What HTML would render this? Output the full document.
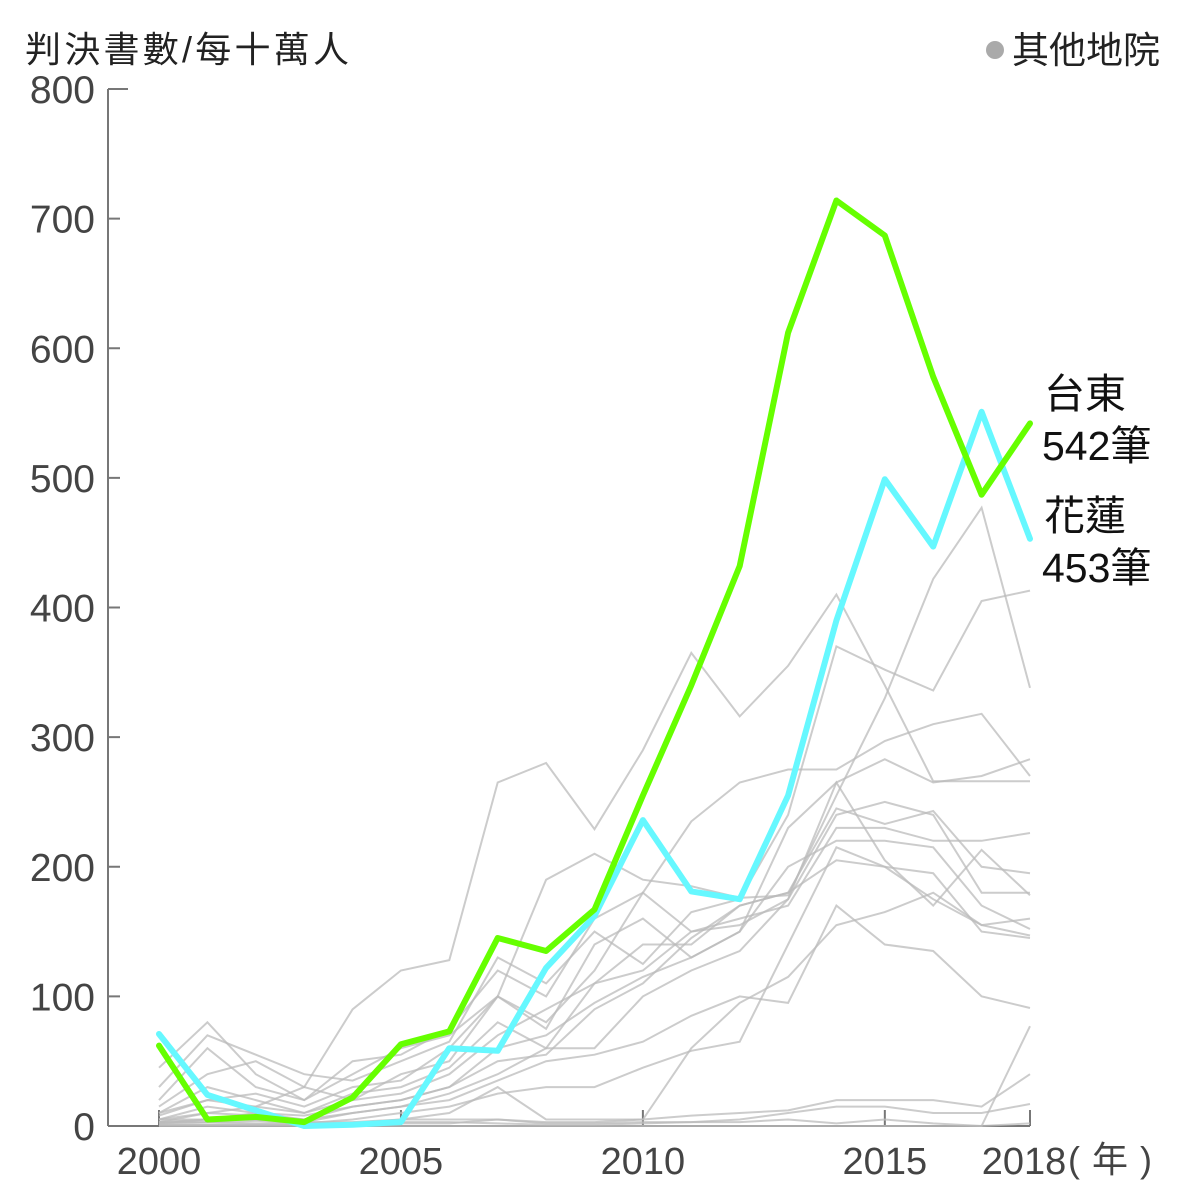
<!DOCTYPE html>
<html><head><meta charset="utf-8">
<style>
html,body{margin:0;padding:0;background:#fff;}
svg{display:block;font-family:"Liberation Sans","Noto Sans CJK TC",sans-serif;}
</style></head>
<body>
<svg id="chart" width="1200" height="1200" viewBox="0 0 1200 1200">
<text x="25" y="62" font-size="36" fill="#222" textLength="324">判決書數/每十萬人</text>
<g>
<circle cx="995" cy="50" r="9" fill="#aaa"/>
<text x="1012" y="63" font-size="37" fill="#222">其他地院</text>
</g>
<g id="axes"></g>
<g id="grays"></g>
<g id="mains"></g>
<text x="1044" y="408" font-size="41" fill="#111">台東</text>
<text x="1042" y="460" font-size="41" fill="#111">542筆</text>
<text x="1044" y="530" font-size="41" fill="#111">花蓮</text>
<text x="1042" y="582" font-size="41" fill="#111">453筆</text>
</svg>
<script>
const years=[2000,2001,2002,2003,2004,2005,2006,2007,2008,2009,2010,2011,2012,2013,2014,2015,2016,2017,2018];
const yTicks=[0,100,200,300,400,500,600,700,800];
const xTicks=[2000,2005,2010,2015,2018];
const taitung=[62,5,7,3,22,63,73,145,135,167,255,340,432,612,714,687,578,487,542];
const hualien=[71,24,12,0,1,3,60,58,122,162,236,181,175,255,390,499,447,551,453];
const g1=[5,10,15,30,90,120,128,265,280,229,290,365,316,355,410,340,266,266,266];
const g2=[30,70,55,40,35,50,65,130,110,150,125,165,175,240,370,352,336,405,413];
const g3=[10,20,25,15,30,35,60,100,190,210,190,185,176,178,255,330,422,477,338];
const g4=[45,80,40,20,50,55,75,120,100,160,180,235,265,275,275,297,310,318,270];
const g5=[20,60,30,20,40,60,70,100,75,140,160,130,150,230,265,283,265,270,283];
const g6=[15,40,50,30,20,40,50,100,80,120,180,150,155,175,240,250,240,180,180];
const g7=[10,30,20,10,25,30,45,80,60,110,140,140,170,180,245,233,243,200,195];
const g8=[8,20,15,10,20,25,40,70,90,110,120,150,160,170,230,230,220,220,226];
const g9=[5,15,10,8,15,20,30,60,70,95,115,130,150,200,220,220,215,170,152];
const g10=[3,10,8,5,15,20,30,50,55,90,110,145,170,180,205,200,175,155,147];
const g11=[3,5,10,5,10,15,25,40,60,60,100,120,135,175,265,205,170,213,178];
const g12=[2,5,5,3,10,15,20,35,50,55,65,85,100,95,170,140,135,100,91];
const g13=[2,3,4,2,5,10,15,25,30,30,45,58,65,140,215,200,195,150,145];
const g14=[5,5,5,3,3,5,10,30,5,5,5,60,95,115,155,165,180,155,160];
const g15=[3,3,2,2,2,5,5,5,2,2,3,3,3,5,2,5,2,0,77];
const g16=[1,1,1,1,1,2,2,5,3,3,5,8,10,12,20,20,20,15,40];
const g17=[1,1,1,1,2,3,3,2,1,1,2,3,5,10,15,15,10,10,17];
const g18=[0,0,0,0,0,0,0,0,0,0,0,0,0,0,0,0,0,0,2];
const grays=[g1,g2,g3,g4,g5,g6,g7,g8,g9,g10,g11,g12,g13,g14,g15,g16,g17,g18];

const NS='http://www.w3.org/2000/svg';
function xS(y){return 159+(y-2000)*(1030-159)/18;}
function yS(v){return 1126-v*(1126-89)/800;}
function mk(tag,attrs,parent){const e=document.createElementNS(NS,tag);for(const k in attrs)e.setAttribute(k,attrs[k]);parent.appendChild(e);return e;}
const axes=document.getElementById('axes');
let yl=mk('line',{x1:108,y1:89,x2:108,y2:1126,stroke:'#777','stroke-width':2},axes);


let xl=mk('line',{x1:108,y1:1126,x2:1030,y2:1126,stroke:'#777','stroke-width':2},axes);


yTicks.forEach(v=>{
  const t=mk('line',{x1:108,y1:yS(v),x2:v===800?128:120,y2:yS(v),stroke:'#777','stroke-width':2},axes);
  
  
  const l=mk('text',{x:95,y:yS(v)+14,'text-anchor':'end','font-size':39,fill:'#444'},axes);
  
  
  l.textContent=v;
});
xTicks.forEach(y=>{
  const t=mk('line',{x1:xS(y),y1:1126,x2:xS(y),y2:1110,stroke:'#777','stroke-width':2},axes);
  
  
  const l=mk('text',{x:y===2018?1024:xS(y),y:1174,'text-anchor':'middle','font-size':38,fill:'#444'},axes);
  
  
  l.textContent=y;
});
const unit=mk('text',{x:1068,y:1172,'font-size':36,fill:'#444'},axes);


unit.textContent='(年)';
unit.setAttribute('letter-spacing','12');
function path(arr){return arr.map((v,i)=>(i?'L':'M')+xS(years[i]).toFixed(1)+','+yS(v).toFixed(1)).join(' ');}
const gg=document.getElementById('grays');
grays.forEach(a=>{
  const p=mk('path',{d:path(a),fill:'none',stroke:'#bbb','stroke-opacity':0.75,'stroke-width':2},gg);
  
  
});
const mg=document.getElementById('mains');
const ph=mk('path',{d:path(hualien),fill:'none',stroke:'#66f8ff','stroke-width':6,'stroke-linejoin':'round','stroke-linecap':'round'},mg);


const pt=mk('path',{d:path(taitung),fill:'none',stroke:'#66ff00','stroke-width':6,'stroke-linejoin':'round','stroke-linecap':'round'},mg);


</script>
</body></html>
